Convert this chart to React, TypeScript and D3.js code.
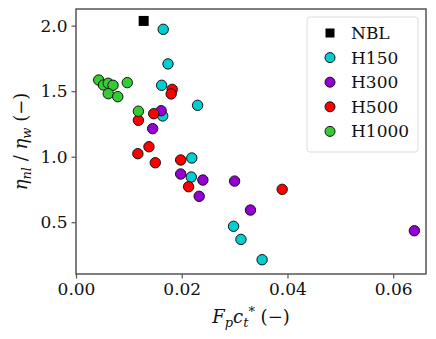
import React, { useEffect, useRef } from 'react';
import * as d3 from 'd3';

// F_p c_t* (x) vs eta_nl / eta_w (y)
const nblX = [0.0128];
const nblY = [2.036];

const h150X = [0.0165, 0.0174, 0.0162, 0.0230, 0.0164, 0.0219, 0.0218, 0.0298, 0.0312, 0.0352];
const h150Y = [1.972, 1.708, 1.545, 1.392, 1.311, 0.990, 0.845, 0.469, 0.369, 0.214];

const h300X = [0.0161, 0.0145, 0.0198, 0.0240, 0.0233, 0.0300, 0.0330, 0.0640];
const h300Y = [1.351, 1.214, 0.868, 0.822, 0.698, 0.814, 0.593, 0.435];

const h500X = [0.0182, 0.0180, 0.0118, 0.0147, 0.0138, 0.0117, 0.0150, 0.0198, 0.0213, 0.0390];
const h500Y = [1.514, 1.479, 1.278, 1.328, 1.076, 1.023, 0.954, 0.975, 0.771, 0.751];

const h1000X = [0.0043, 0.0052, 0.0061, 0.0070, 0.0061, 0.0079, 0.0097, 0.0118];
const h1000Y = [1.585, 1.547, 1.560, 1.545, 1.481, 1.458, 1.565, 1.347];

const seriesNames = ['NBL', 'H150', 'H300', 'H500', 'H1000'];
const seriesColors = ['#000000', '#00CED1', '#9400D3', '#FF0000', '#32CD32'];

const xTicks = [0, 0.02, 0.04, 0.06];
const yTicks = [0.5, 1.0, 1.5, 2.0];

const W = 436;
const H = 339;
const margin = { left: 76, right: 10, top: 9, bottom: 65 };
const FONT = '"DejaVu Serif", serif';

const App = () => {
  const svgRef = useRef<SVGSVGElement>(null);

  useEffect(() => {
    const svg = d3.select(svgRef.current);
    svg.selectAll('*').remove();

    const x = d3.scaleLinear().domain([0, 0.0662]).range([margin.left, W - margin.right]);
    const y = d3.scaleLinear().domain([0.105, 2.127]).range([H - margin.bottom, margin.top]);

    const series = [
      { xs: nblX, ys: nblY },
      { xs: h150X, ys: h150Y },
      { xs: h300X, ys: h300Y },
      { xs: h500X, ys: h500Y },
      { xs: h1000X, ys: h1000Y },
    ];

    const spine = '#555';

    // axes
    const xAxis = d3.axisBottom(x).tickValues(xTicks).tickFormat(d3.format('.2f')).tickSize(4.5).tickPadding(4);
    const gx = svg.append('g').attr('transform', `translate(0,${H - margin.bottom})`).call(xAxis);
    const yAxis = d3.axisLeft(y).tickValues(yTicks).tickFormat(d3.format('.1f')).tickSize(4.5).tickPadding(4);
    const gy = svg.append('g').attr('transform', `translate(${margin.left},0)`).call(yAxis);
    [gx, gy].forEach(g => {
      g.select('.domain').remove();
      g.selectAll('line').attr('stroke', spine).attr('stroke-width', 1.2);
      g.selectAll('text').attr('font-family', FONT).attr('font-size', 17).attr('fill', '#111');
    });

    // frame
    svg
      .append('rect')
      .attr('x', margin.left)
      .attr('y', margin.top)
      .attr('width', W - margin.left - margin.right)
      .attr('height', H - margin.top - margin.bottom)
      .attr('fill', 'none')
      .attr('stroke', spine)
      .attr('stroke-width', 1.5);

    // points
    series.forEach((s, i) => {
      const g = svg.append('g');
      if (i === 0) {
        g.selectAll('rect')
          .data(s.xs)
          .join('rect')
          .attr('x', d => x(d) - 5)
          .attr('y', (d, j) => y(s.ys[j]) - 5)
          .attr('width', 10)
          .attr('height', 10)
          .attr('fill', seriesColors[i]);
      } else {
        g.selectAll('circle')
          .data(s.xs)
          .join('circle')
          .attr('cx', d => x(d))
          .attr('cy', (d, j) => y(s.ys[j]))
          .attr('r', 5.2)
          .attr('fill', seriesColors[i])
          .attr('stroke', '#111')
          .attr('stroke-width', 1);
      }
    });

    // legend
    const lg = svg.append('g');
    lg.append('rect')
      .attr('x', 307)
      .attr('y', 17)
      .attr('width', 111)
      .attr('height', 135)
      .attr('rx', 3)
      .attr('fill', 'white')
      .attr('fill-opacity', 0.85)
      .attr('stroke', '#ddd')
      .attr('stroke-width', 1);
    seriesNames.forEach((name, i) => {
      const cy = 33 + i * 24.6;
      if (i === 0) {
        lg.append('rect').attr('x', 325.5).attr('y', cy - 4.5).attr('width', 9).attr('height', 9).attr('fill', seriesColors[i]);
      } else {
        lg.append('circle')
          .attr('cx', 330)
          .attr('cy', cy)
          .attr('r', 5)
          .attr('fill', seriesColors[i])
          .attr('stroke', '#111')
          .attr('stroke-width', 1);
      }
      lg.append('text')
        .attr('x', 351)
        .attr('y', cy)
        .attr('dy', '0.35em')
        .attr('font-family', FONT)
        .attr('font-size', 17)
        .attr('fill', '#111')
        .text(name);
    });

    // x label: F_p c_t^* (−)
    const xl = svg
      .append('text')
      .attr('x', margin.left + (W - margin.left - margin.right) / 2)
      .attr('y', 323)
      .attr('text-anchor', 'middle')
      .attr('font-family', FONT)
      .attr('font-size', 18)
      .attr('fill', '#111');
    xl.append('tspan').attr('font-style', 'italic').text('F');
    xl.append('tspan').attr('font-style', 'italic').attr('font-size', 13).attr('dy', 4).text('p');
    xl.append('tspan').attr('font-style', 'italic').attr('dy', -4).text('c');
    xl.append('tspan').attr('font-style', 'italic').attr('font-size', 13).attr('dy', 4).text('t');
    xl.append('tspan').attr('font-size', 13).attr('dy', -11).text('*');
    xl.append('tspan').attr('dy', 7).text('\u00a0(\u2212)');

    // y label: eta_nl / eta_w (−)
    const yl = svg
      .append('text')
      .attr('transform', `translate(27,${margin.top + (H - margin.top - margin.bottom) / 2}) rotate(-90)`)
      .attr('text-anchor', 'middle')
      .attr('font-family', FONT)
      .attr('font-size', 18)
      .attr('fill', '#111');
    yl.append('tspan').attr('font-style', 'italic').text('\u03b7');
    yl.append('tspan').attr('font-style', 'italic').attr('font-size', 13).attr('dy', 4).text('nl');
    yl.append('tspan').attr('dy', -4).text('\u00a0/\u00a0');
    yl.append('tspan').attr('font-style', 'italic').text('\u03b7');
    yl.append('tspan').attr('font-style', 'italic').attr('font-size', 13).attr('dy', 4).text('w');
    yl.append('tspan').attr('dy', -4).text('\u00a0(\u2212)');
  }, []);

  return (
    <svg
      ref={svgRef}
      width={W}
      height={H}
      style={{ position: 'absolute', left: 0, top: 0, background: 'white' }}
    />
  );
};

export default App;
